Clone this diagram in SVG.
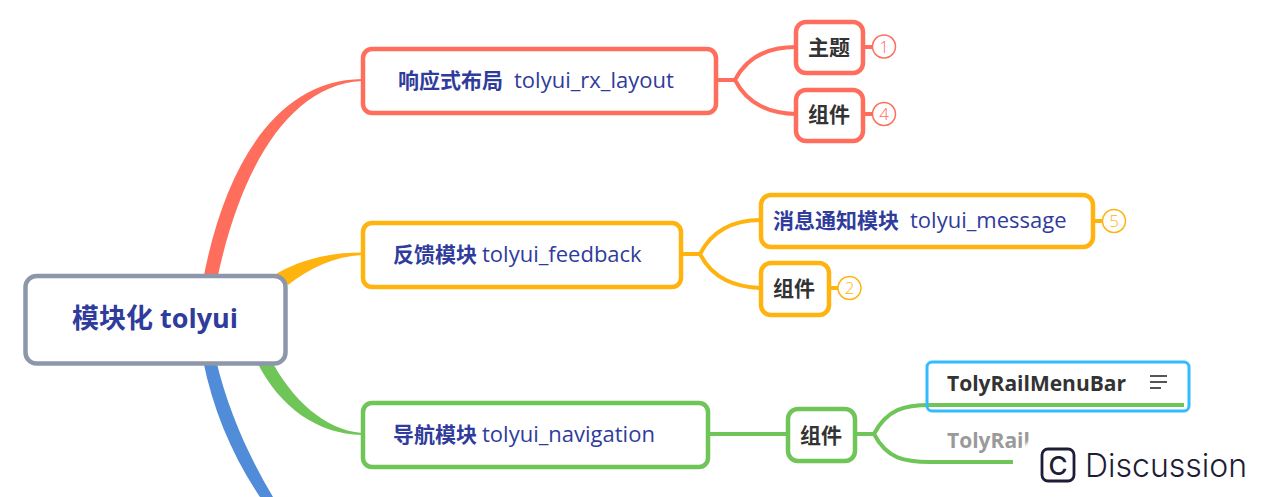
<svg xmlns="http://www.w3.org/2000/svg" width="1273" height="497" viewBox="0 0 1273 497">
<style>
text{font-family:"Open Sans","Noto Sans CJK SC",sans-serif}
.box{fill:#fff;stroke-width:4.500}
.red{stroke:#ff6e5d}.amber{stroke:#ffb30f}.green{stroke:#6fc557}
.line{fill:none;stroke-width:4}
.blue-t{fill:#2f3c9c;font-weight:700}
.reg{font-weight:500;fill:#2f3c9c;font-size:22px}
.dark{fill:#333;font-weight:700}
.badge{fill:#fff;stroke-width:1.500}
.num{font-size:17px;font-weight:300;text-anchor:middle}
</style>
<defs><filter id="soft" x="-5%" y="-10%" width="110%" height="120%"><feGaussianBlur stdDeviation="1.2"/></filter></defs>
<g id="connectors">
<path d="M203,280C224,170 274,80 362,79L362,81C288,85 240,170 217,280Z" fill="#ff6e5d"/>
<path d="M276,274C302,259 330,252.500 362,252.500L362,255C335,256 310,268 288,285Z" fill="#ffb30f"/>
<path d="M257,362L270,358C292,400 325,430 362,433L362,435C318,434 280,408 257,362Z" fill="#6fc557"/>
<path d="M203,360L216,360C228,410 248,455 273,497L260,497C232,455 213,410 203,360Z" fill="#518cd8"/>
<path class="line red" d="M717,80H735C748,55 770,47 796,47M735,80C748,105 770,113 796,114"/>
<path class="line red" d="M863,47H872M863,114H872"/>
<path class="line amber" d="M682,254H700C713,229 735,220 761,220M700,254C713,279 735,287 761,288"/>
<path class="line amber" d="M1093,221H1103M829,288H838"/>
<path class="line green" d="M709,434H788M856,434H874C887,409 905,405 930,405H1184M874,434C887,459 905,462 930,462H1013"/>
</g>
<g id="root"><rect x="25.500" y="276" width="260" height="87.500" rx="11" fill="#fff" stroke="#8d97aa" stroke-width="4.500"/>
<text x="155" y="328" text-anchor="middle" font-size="27" class="blue-t">模块化 tolyui</text></g>
<g id="n-layout"><rect class="box red" x="363" y="49" width="353" height="64" rx="9"/>
<text x="398" y="88" font-size="21"><tspan class="blue-t">响应式布局</tspan><tspan class="reg" x="514">tolyui_rx_layout</tspan></text></g>
<g id="n-theme"><rect class="box red" x="796" y="22" width="67" height="51" rx="10"/>
<text x="829" y="55" font-size="21" text-anchor="middle" class="dark">主题</text></g>
<g id="b1"><circle class="badge red" cx="884" cy="46.500" r="11.500"/><text class="num" x="884" y="52.500" fill="#ff6e5d">1</text></g>
<g id="n-comp1"><rect class="box red" x="796" y="90" width="67" height="51" rx="10"/>
<text x="829" y="122" font-size="21" text-anchor="middle" class="dark">组件</text></g>
<g id="b4"><circle class="badge red" cx="884" cy="114" r="11.500"/><text class="num" x="884" y="120" fill="#ff6e5d">4</text></g>
<g id="n-feedback"><rect class="box amber" x="363" y="223" width="318" height="64" rx="9"/>
<text x="393" y="262" font-size="21"><tspan class="blue-t">反馈模块</tspan><tspan class="reg" x="482">tolyui_feedback</tspan></text></g>
<g id="n-message"><rect class="box amber" x="761" y="195" width="332" height="52" rx="10"/>
<text x="773" y="228" font-size="21"><tspan class="blue-t">消息通知模块</tspan><tspan class="reg" x="910">tolyui_message</tspan></text></g>
<g id="b5"><circle class="badge amber" cx="1114" cy="221" r="11.500"/><text class="num" x="1114" y="227" fill="#ffb30f">5</text></g>
<g id="n-comp2"><rect class="box amber" x="761" y="263" width="68" height="52" rx="10"/>
<text x="794" y="296" font-size="21" text-anchor="middle" class="dark">组件</text></g>
<g id="b2"><circle class="badge amber" cx="849.500" cy="288" r="11.500"/><text class="num" x="849.500" y="294" fill="#ffb30f">2</text></g>
<g id="n-nav"><rect class="box green" x="363" y="403" width="345" height="64" rx="9"/>
<text x="393" y="442" font-size="21"><tspan class="blue-t">导航模块</tspan><tspan class="reg" x="482">tolyui_navigation</tspan></text></g>
<g id="n-comp3"><rect class="box green" x="788" y="409" width="67" height="52" rx="10"/>
<text x="821" y="443" font-size="21" text-anchor="middle" class="dark">组件</text></g>
<g id="n-menubar"><rect x="927" y="362" width="262" height="49" rx="5" fill="none" stroke="#33bbff" stroke-width="3"/>
<text x="947" y="391" font-size="21" class="dark">TolyRailMenuBar</text>
<path d="M1150,376H1167M1150,382H1167M1150,388H1161" stroke="#555" stroke-width="1.800" fill="none"/></g>
<g id="n-rail"><text x="947" y="448" font-size="21" font-weight="700" fill="#9a9a9a">TolyRail</text></g>
<!-- white plate behind the Discussion mark, with a soft edge -->
<path d="M1014,500V463Q1017,452 1022,448Q1028,442 1045,426H1280V500Z" fill="#fff" filter="url(#soft)"/>
<g id="discussion-mark"><rect x="1042" y="449" width="32" height="32" rx="6" fill="none" stroke="#1d1d35" stroke-width="2.800"/>
<text x="1058" y="474.500" font-size="26" text-anchor="middle" fill="#1d1d35" style="font-family:Inter,sans-serif" font-weight="500">C</text>
<text x="1085" y="477" font-size="32" fill="#1d1d35" style="font-family:Inter,sans-serif" font-weight="300">Discussion</text></g>
</svg>
